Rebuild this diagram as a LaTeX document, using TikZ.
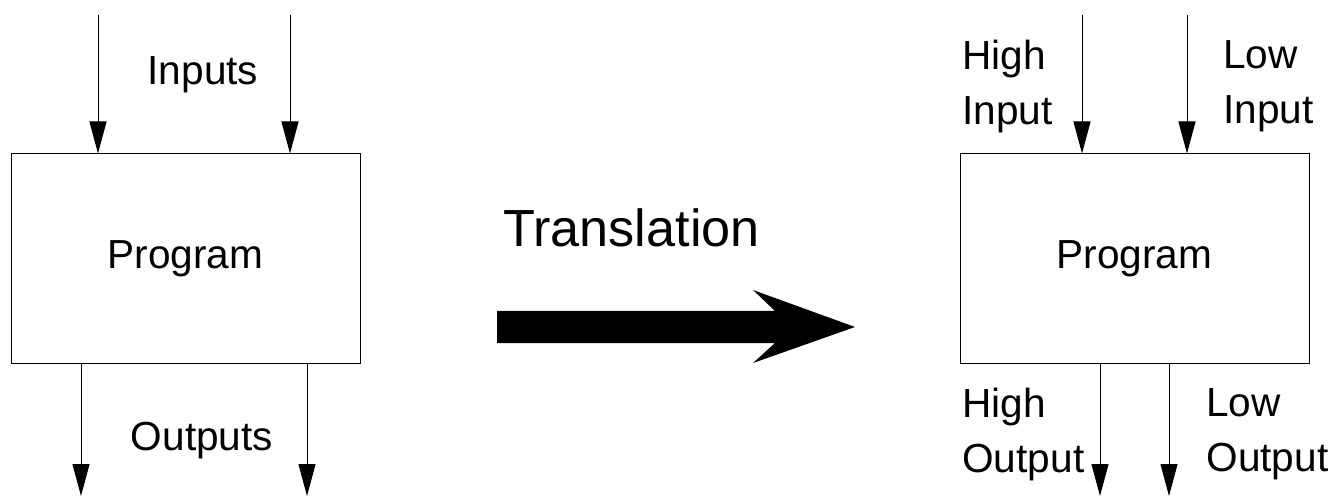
\documentclass[tikz,border=0pt]{standalone}
\usepackage{fontspec}
\setmainfont{Liberation Sans}
\usetikzlibrary{arrows.meta,calc,positioning}

\begin{document}
\begin{tikzpicture}[x=0.5pt,y=-0.5pt,font=\fontsize{20.3}{27.5}\selectfont,
  prog/.style={draw,line width=0.5pt,minimum width=174.5pt,minimum height=104.5pt,inner sep=0pt},
  sig/.style={-{Triangle[length=16pt,width=8.5pt]},line width=0.5pt},
  lbl/.style={inner sep=0pt,align=left}]
  \useasboundingbox (0,0) rectangle (1333,497);
  % before
  \node[prog] (progL) at (185.5,258.5) {Program};
  \coordinate (inL1) at (98,15);
  \coordinate (inL2) at (290,15);
  \coordinate (outL1) at (81,496);
  \coordinate (outL2) at (307,496);
  \draw[sig] (inL1) -- (inL1 |- progL.north);
  \draw[sig] (inL2) -- (inL2 |- progL.north);
  \draw[sig] (outL1 |- progL.south) -- (outL1);
  \draw[sig] (outL2 |- progL.south) -- (outL2);
  \node[anchor=base] (lblIn) at (203,85) {Inputs};
  \node[anchor=base] (lblOut) at (202,450) {Outputs};
  % translation
  \node[anchor=base west,inner sep=0pt,font=\fontsize{26.1}{30}\selectfont] (lblTr) at (503,247) {Translation};
  \fill (497,311) -- (775,311) -- (753,290) -- (855,327) -- (753,363) -- (775,343) -- (497,343) -- cycle;
  % after
  \node[prog] (progR) at (1134.5,258.5) {Program};
  \coordinate (inR1) at (1082,15);
  \coordinate (inR2) at (1187,15);
  \coordinate (outR1) at (1100,496);
  \coordinate (outR2) at (1169,496);
  \draw[sig] (inR1) -- (inR1 |- progR.north);
  \draw[sig] (inR2) -- (inR2 |- progR.north);
  \draw[sig] (outR1 |- progR.south) -- (outR1);
  \draw[sig] (outR2 |- progR.south) -- (outR2);
  \node[lbl,anchor=north west] (lblHI) at (962,40) {High\\Input};
  \node[lbl,anchor=north west] (lblLI) at (1223,40) {Low\\Input};
  \node[lbl,anchor=north west] (lblHO) at (962,388) {High\\Output};
  \node[lbl,anchor=north west] (lblLO) at (1206,388) {Low\\Output};
\end{tikzpicture}
\end{document}
